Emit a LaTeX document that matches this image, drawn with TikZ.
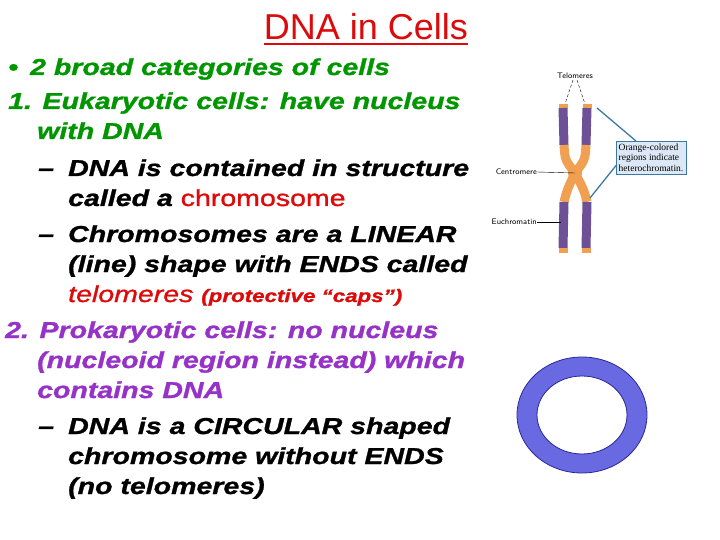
\documentclass[tikz,border=0pt]{standalone}
\usepackage{fontspec}
\setmainfont{Liberation Sans}
\newfontfamily\wide{Liberation Sans}[FakeStretch=1.24,FakeBold=1.2]
\newfontfamily\serifb{Liberation Serif}
\definecolor{tgreen}{RGB}{0,150,0}
\definecolor{tpurple}{RGB}{150,50,200}
\definecolor{tred}{RGB}{220,10,10}
\definecolor{cpurple}{RGB}{110,80,150}
\definecolor{corange}{RGB}{240,160,80}
\definecolor{ring}{RGB}{105,105,225}
\definecolor{ringb}{RGB}{40,40,150}
\definecolor{boxfill}{RGB}{220,232,245}
\definecolor{boxline}{RGB}{60,120,160}
\begin{document}
\begin{tikzpicture}[x=1pt,y=-1pt,
  ln/.style={anchor=base west,inner sep=0pt,font=\wide\fontsize{23}{23}\selectfont\bfseries\itshape},
  sm/.style={inner sep=0pt,font=\fontsize{8}{8}\selectfont\sffamily},
  pu/.style={line width=9pt,cpurple},
  orn/.style={line width=9pt,corange}]
\useasboundingbox (0,0) rectangle (720,540);
\node[anchor=base,inner sep=0pt,font=\fontsize{36}{36}\selectfont,tred] (title) at (366,40) {DNA in Cells};
\draw[tred,line width=1.5pt] ([yshift=-4pt]title.base west) -- ([yshift=-4pt]title.base east);
\node[ln,tgreen] (l1) at (8,75) {•\hspace{12pt}2 broad categories of cells};
\node[ln,tgreen] (l2) at (8,109) {1. Eukaryotic cells: have nucleus};
\node[ln,tgreen] (l3) at (37,139) {with DNA};
\node[ln] (l4d) at (38,176) {–};
\node[ln] (l4) at (68,176) {DNA is contained in structure};
\node[ln] (l5) at (68,206) {called a \textcolor{tred}{\mdseries\upshape chromosome}};
\node[ln] (l6d) at (38,242) {–};
\node[ln] (l6) at (68,242) {Chromosomes are a LINEAR};
\node[ln] (l7) at (68,272) {(line) shape with ENDS called};
\node[ln,tred] (l8) at (68,302) {\mdseries telomeres \fontsize{18}{18}\selectfont\bfseries(protective “caps”)};
\node[ln,tpurple] (l9) at (5,338) {2. Prokaryotic cells: no nucleus};
\node[ln,tpurple] (l10) at (37,368) {(nucleoid region instead) which};
\node[ln,tpurple] (l11) at (37,398) {contains DNA};
\node[ln] (l12d) at (38,434) {–};
\node[ln] (l12) at (68,434) {DNA is a CIRCULAR shaped};
\node[ln] (l13) at (68,464) {chromosome without ENDS};
\node[ln] (l14) at (68,494) {(no telomeres)};
% chromosome
\coordinate (c) at (575,173);
\draw[orn] (563,104) -- (563,108);
\draw[pu] (563,108) -- (564,145);
\draw[orn] (564,145) .. controls (565,160) .. (c) .. controls (567,190) .. (564,202);
\draw[pu] (564,202) -- (563,248);
\draw[orn] (563,248) -- (563,253);
\draw[orn] (587,104) -- (587,108);
\draw[pu] (587,108) -- (586,145);
\draw[orn] (586,145) .. controls (585,160) .. (c) .. controls (584,190) .. (587,202);
\draw[pu] (587,202) -- (586,248);
\draw[orn] (586,248) -- (586,253);
\fill[corange] (c) circle (7pt);
\node[sm] (tel) at (575,76) {Telomeres};
\draw[densely dashed,thin] (tel.south) ++(-2,1) -- (565,104);
\draw[densely dashed,thin] (tel.south) ++(2,1) -- (585,104);
\node[sm,anchor=east] (cen) at (537,172) {Centromere};
\draw[thin] (cen.east) -- (c);
\node[sm,anchor=east] (euc) at (537,222) {Euchromatin};
\draw[thin] (euc.east) -- (561,222);
\node[draw=boxline,fill=boxfill,inner sep=2.5pt,align=left,font=\serifb\fontsize{9.5}{10.5}\selectfont,anchor=north west] (box) at (616,141) {Orange-colored\\regions indicate\\heterochromatin.};
\draw[boxline,line width=1.3pt] (box.north west) ++(20,0) -- (597,108);
\draw[boxline,line width=1.3pt] (box.west) ++(0,8) -- (590,198);
% ring
\draw[ringb,fill=ring,even odd rule,line width=0.8pt] (582,415) ellipse [x radius=65,y radius=58] (582,415) ellipse [x radius=45,y radius=39];
\end{tikzpicture}
\end{document}
